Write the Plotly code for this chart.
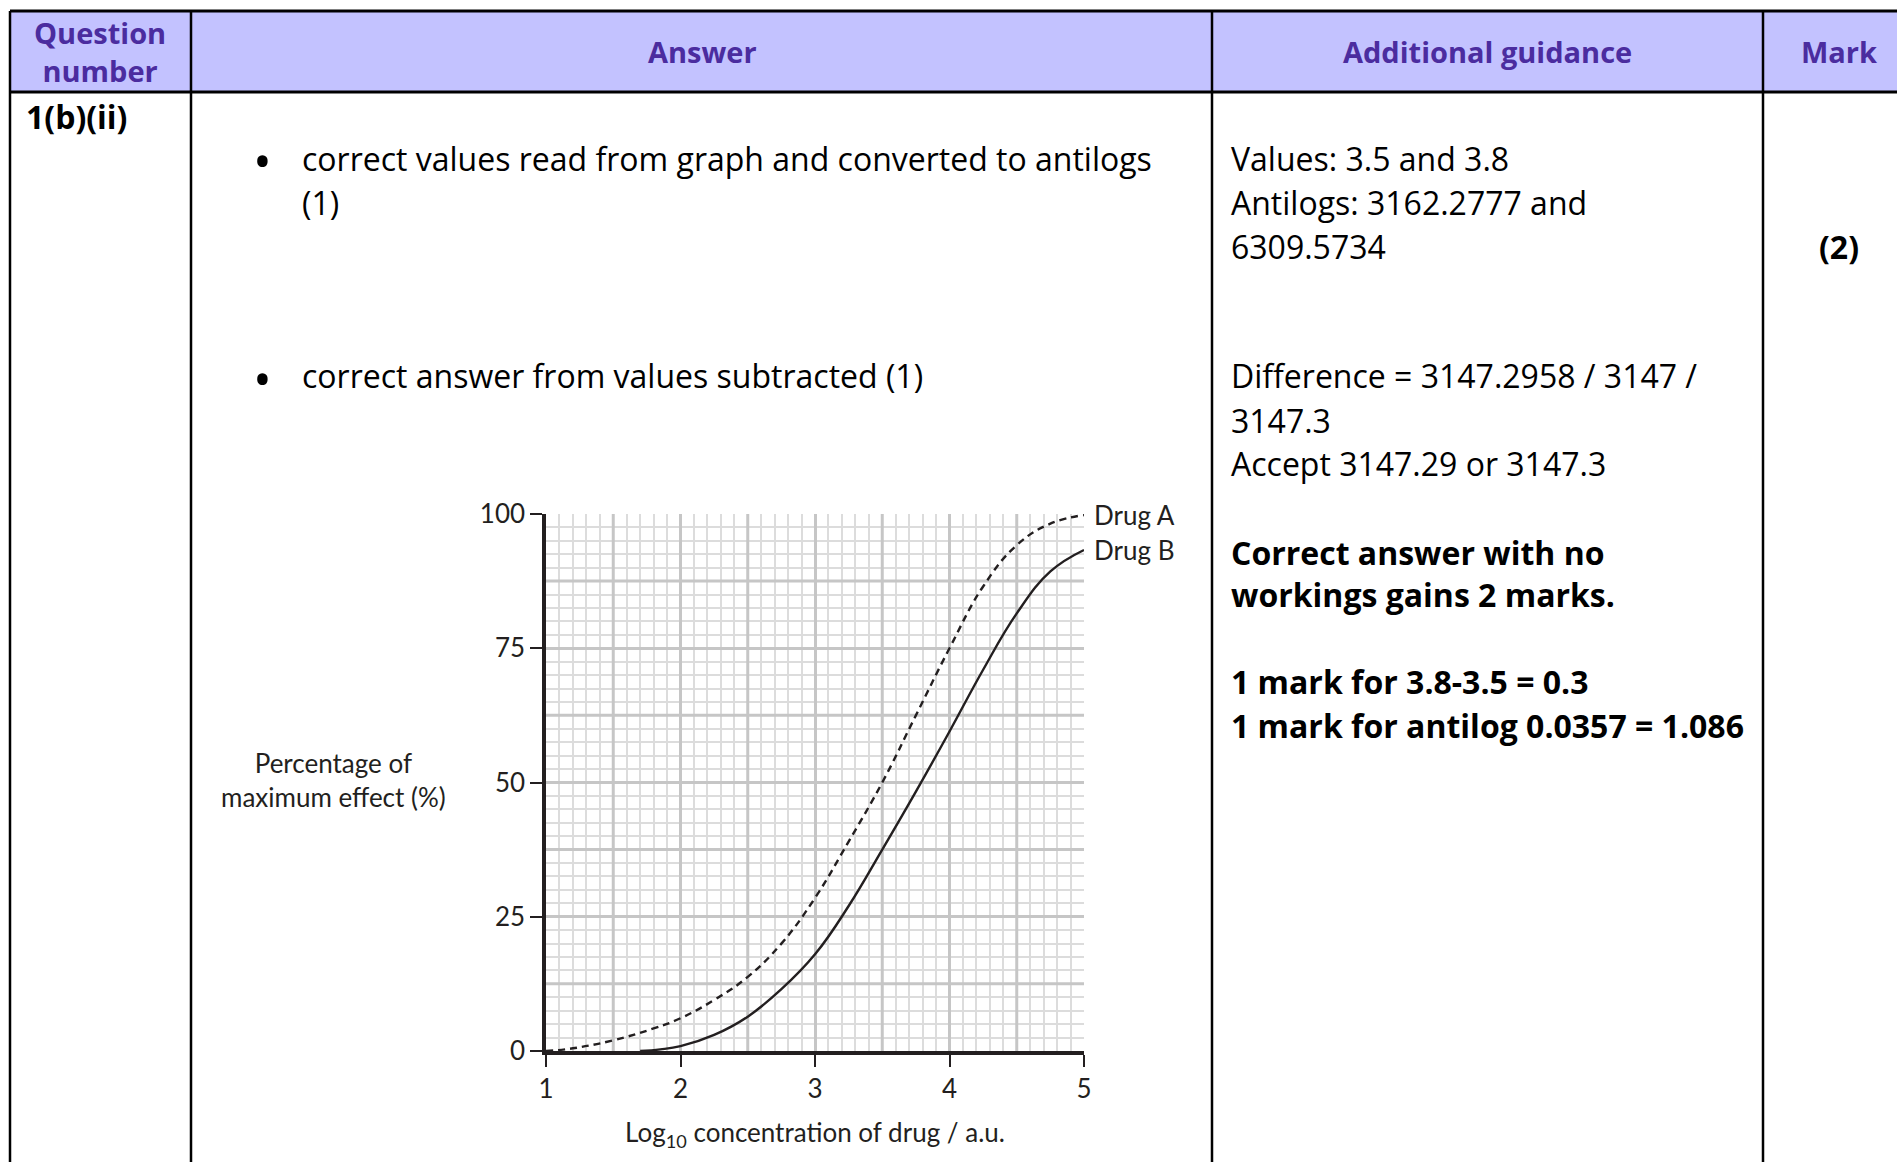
import numpy as np
import plotly.graph_objects as go

# dose-response curves
conc_a = [1.0, 1.2, 1.5, 1.8, 2.0, 2.25, 2.5, 2.75, 3.0, 3.25, 3.5, 3.75, 4.0, 4.25, 4.5, 4.75, 5.0]
effect_a = [0, 0.5, 2.0, 4.2, 6.1, 9.5, 13.8, 20, 28.5, 39, 50, 62.5, 75, 86.5, 94.2, 98.2, 99.8]

conc_b = [1.7, 1.85, 2.0, 2.25, 2.5, 2.75, 3.0, 3.25, 3.5, 3.75, 4.0, 4.25, 4.5, 4.75, 5.0]
effect_b = [0, 0.3, 0.9, 3.0, 6.4, 11.5, 18, 27, 37.5, 48.3, 59.5, 71, 81.5, 89.3, 93.3]

x_ticks = [1, 2, 3, 4, 5]
y_ticks = [0, 25, 50, 75, 100]

headers = ["Question<br>number", "Answer", "Additional guidance", "Mark"]
answer_lines = [
    "correct values read from graph and converted to antilogs",
    "(1)",
    "correct answer from values subtracted (1)",
]
guidance_lines = [
    "Values: 3.5 and 3.8",
    "Antilogs: 3162.2777 and",
    "6309.5734",
    "Difference = 3147.2958 / 3147 /",
    "3147.3",
    "Accept 3147.29 or 3147.3",
]
guidance_bold = [
    "Correct answer with no",
    "workings gains 2 marks.",
    "1 mark for 3.8-3.5 = 0.3",
    "1 mark for antilog 0.0357 = 1.086",
]

W, H = 1897, 1162


def px(x):
    return x / W


def py(y):
    return 1 - y / H


TXT = "Open Sans"
CHART = "Lato"
INK = "#231f20"
PURPLE = "#4b2c9f"
CSIZE = 26

fig = go.Figure()

fig.add_trace(go.Scatter(x=conc_a, y=effect_a, mode="lines", name="Drug A",
                         line=dict(color=INK, width=2.4, dash="7px,5px", shape="spline", smoothing=1.2)))
fig.add_trace(go.Scatter(x=conc_b, y=effect_b, mode="lines", name="Drug B",
                         line=dict(color=INK, width=2.4, shape="spline", smoothing=1.2)))

shapes = []
# table frame
shapes.append(dict(type="rect", xref="paper", yref="paper", x0=px(10), x1=px(W + 20), y0=py(92), y1=py(11),
                   fillcolor="#c3c2ff", line=dict(width=0), layer="below"))
for yy in (11, 92):
    shapes.append(dict(type="line", xref="paper", yref="paper", x0=px(10), x1=px(W + 20), y0=py(yy), y1=py(yy),
                       line=dict(color="black", width=3)))
for xx in (10, 191, 1212, 1763):
    shapes.append(dict(type="line", xref="paper", yref="paper", x0=px(xx), x1=px(xx), y0=py(11), y1=py(H + 20),
                       line=dict(color="black", width=2.5)))

# heavier half-step grid lines
for v in np.arange(1.5, 5, 1.0):
    shapes.append(dict(type="line", xref="x", yref="y", x0=v, x1=v, y0=0, y1=100, layer="between",
                       line=dict(color="#c6c6c6", width=3)))
for v in np.arange(12.5, 100, 25):
    shapes.append(dict(type="line", xref="x", yref="y", x0=1, x1=5, y0=v, y1=v, layer="between",
                       line=dict(color="#c6c6c6", width=3)))

ann = []


def text_at(x, y, t, anchor="left", bold=False, size=32, color="black", family=TXT):
    if bold:
        t = "<b>" + t + "</b>"
    ann.append(dict(x=px(x), y=py(y), xref="paper", yref="paper", text=t, showarrow=False,
                    xanchor=anchor, yanchor="middle", align="center" if anchor == "center" else "left",
                    font=dict(family=family, size=size, color=color)))


head_x = [100, 702, 1487, 1839]
for hx, ht in zip(head_x, headers):
    text_at(hx, 52, ht, anchor="center", bold=True, size=29, color=PURPLE)

text_at(24, 116, "1(b)(ii)", bold=True)
text_at(262, 160, "•", anchor="center", size=50)
text_at(262, 378, "•", anchor="center", size=50)
for yy, t in zip([158, 202, 376], answer_lines):
    text_at(300, yy, t)
for yy, t in zip([158, 202, 246, 376, 420, 463], guidance_lines):
    text_at(1229, yy, t)
for yy, t in zip([552, 594, 681, 725], guidance_bold):
    text_at(1229, yy, t, bold=True)
text_at(1839, 246, "(2)", anchor="center", bold=True)

# chart labels
for name, cx, cy in (("Drug A", conc_a, effect_a), ("Drug B", conc_b, effect_b)):
    ann.append(dict(x=cx[-1], y=cy[-1], xref="x", yref="y", text=name, showarrow=False, xanchor="left",
                    yanchor="middle", xshift=8, font=dict(family=CHART, size=CSIZE, color=INK)))
text_at(333, 780, "Percentage of<br>maximum effect (%)", anchor="center", size=CSIZE, color=INK, family=CHART)

axis_common = dict(
    ticks="outside", ticklen=12, tickwidth=2, tickcolor=INK,
    showline=True, linecolor=INK, linewidth=3.5,
    showgrid=True, gridcolor="#c6c6c6", gridwidth=3, zeroline=False,
    tickfont=dict(family=CHART, size=CSIZE, color=INK),
)

fig.update_layout(
    width=W, height=H,
    margin=dict(l=0, r=0, t=0, b=0, autoexpand=False),
    paper_bgcolor="white", plot_bgcolor="white",
    showlegend=False,
    shapes=shapes,
    annotations=ann,
    xaxis=dict(domain=[px(546), px(1084)], range=[1, 5], tickvals=x_ticks,
               minor=dict(dtick=0.1, showgrid=True, gridcolor="#dcdcdc", gridwidth=1.5, ticks=""),
               title=dict(text="Log<sub>10</sub> concentration of drug / a.u.", standoff=22,
                          font=dict(family=CHART, size=CSIZE, color=INK)),
               **axis_common),
    yaxis=dict(domain=[py(1051), py(514)], range=[0, 100], tickvals=y_ticks,
               minor=dict(dtick=2.5, showgrid=True, gridcolor="#dcdcdc", gridwidth=1.5, ticks=""),
               **axis_common),
)

fig.write_html("out.html", config={"displayModeBar": False},
               post_script="document.body.style.margin='0';")
